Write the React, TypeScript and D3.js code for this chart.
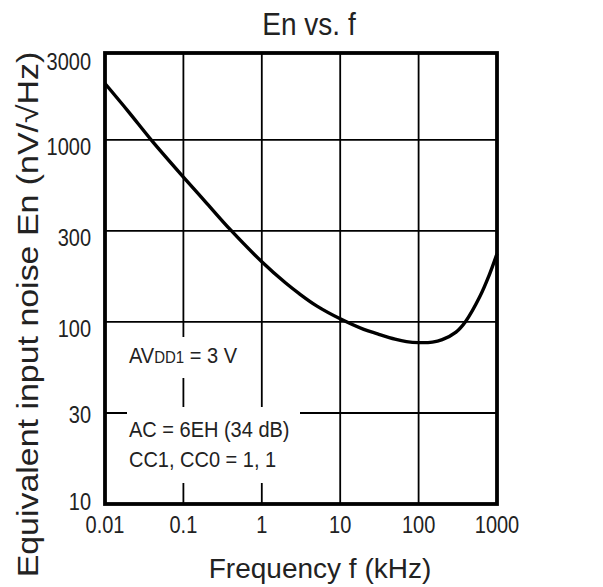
import React from "react";
import * as d3 from "d3";

// ---- data ----
const freqKHz = [0.01, 0.02, 0.04, 0.1, 0.2, 0.4, 1, 2, 3, 5, 10, 20, 30, 50, 70, 100, 150, 200, 300, 400, 600, 800, 1000];
const noiseEn = [2040, 1426, 985, 625, 447, 320, 214, 164, 143, 122.5, 104, 91, 86, 80.5, 78, 77, 77.5, 80, 88, 101, 137, 182, 237];

const xTickValues = [0.01, 0.1, 1, 10, 100, 1000];
const xTickLabels = ["0.01", "0.1", "1", "10", "100", "1000"];
const yTickValues = [10, 31.6, 100, 316, 1000, 3000];
const yTickLabels = ["10", "30", "100", "300", "1000", "3000"];

const title = "En vs. f";
const xTitle = "Frequency f (kHz)";
const yTitle = "Equivalent input noise En (nV/\u221AHz)";

const FONT = "'Liberation Sans', Arial, Helvetica, sans-serif";
const INK = "#222";

function T(props: { x: number; y: number; sy?: number; rot?: number; size: number; anchor?: string; children: React.ReactNode }) {
  const { x, y, sy = 1, rot = 0, size, anchor = "start", children } = props;
  return (
    <text
      transform={`translate(${x},${y}) scale(1,${sy})${rot ? ` rotate(${rot})` : ""}`}
      fontSize={size}
      textAnchor={anchor}
      fill={INK}
    >
      {children}
    </text>
  );
}

export default function App() {
  const W = 603, H = 587;
  const left = 105, right = 497, top = 53, bottom = 504;
  const x = d3.scaleLog().domain([0.01, 1000]).range([left, right]);
  const y = d3.scaleLog().domain([10, 3000]).range([bottom, top]);

  const pts: [number, number][] = freqKHz.map((f, i) => [x(f), y(noiseEn[i])]);
  const line = d3.line().curve(d3.curveCatmullRom.alpha(0.5));
  const path = line(pts) || "";

  const innerX = xTickValues.slice(1, -1);
  const innerY = yTickValues.slice(1, -1);

  const yLabelOffset = (i: number, v: number) => (i === 0 ? 6 : v < 50 ? 10 : v > 2000 ? 17 : 15);

  return (
    <svg width={W} height={H} style={{ position: "absolute", left: 0, top: 0, background: "#fff" }} fontFamily={FONT}>
      <rect x={0} y={0} width={W} height={H} fill="#fff" />
      {/* grid */}
      {innerX.map((v) => (
        <line key={"gx" + v} x1={x(v)} x2={x(v)} y1={top} y2={bottom} stroke="#000" strokeWidth={1.8} />
      ))}
      {innerY.map((v) => (
        <line key={"gy" + v} x1={left} x2={right} y1={y(v)} y2={y(v)} stroke="#000" strokeWidth={1.8} />
      ))}
      {/* annotation boxes */}
      <rect x={120} y={337} width={125} height={41} fill="#fff" />
      <rect x={127} y={407} width={173} height={76} fill="#fff" />
      <T x={129} y={363} sy={1.08} size={20}>
        AV<tspan fontSize={15}>DD1</tspan> = 3 V
      </T>
      <T x={129} y={437} sy={1.08} size={20}>AC = 6EH (34 dB)</T>
      <T x={129} y={467} sy={1.08} size={20}>CC1, CC0 = 1, 1</T>
      {/* curve */}
      <path d={path} fill="none" stroke="#000" strokeWidth={3.4} strokeLinejoin="round" />
      {/* frame */}
      <rect x={left} y={top} width={right - left} height={bottom - top} fill="none" stroke="#000" strokeWidth={3.8} />
      {/* x ticks */}
      {xTickValues.map((v, i) => (
        <T key={"xt" + v} x={x(v)} y={533} sy={1.17} size={20} anchor="middle">
          {xTickLabels[i]}
        </T>
      ))}
      {/* y ticks */}
      {yTickValues.map((v, i) => (
        <T key={"yt" + v} x={91} y={y(v) + yLabelOffset(i, v)} sy={1.17} size={20} anchor="end">
          {yTickLabels[i]}
        </T>
      ))}
      {/* titles */}
      <T x={309} y={35} sy={1.12} size={28} anchor="middle">{title}</T>
      <T x={320} y={578} size={28} anchor="middle">{xTitle}</T>
      <T x={38} y={314.5} sy={1.17} rot={-90} size={29} anchor="middle">{yTitle}</T>
    </svg>
  );
}
